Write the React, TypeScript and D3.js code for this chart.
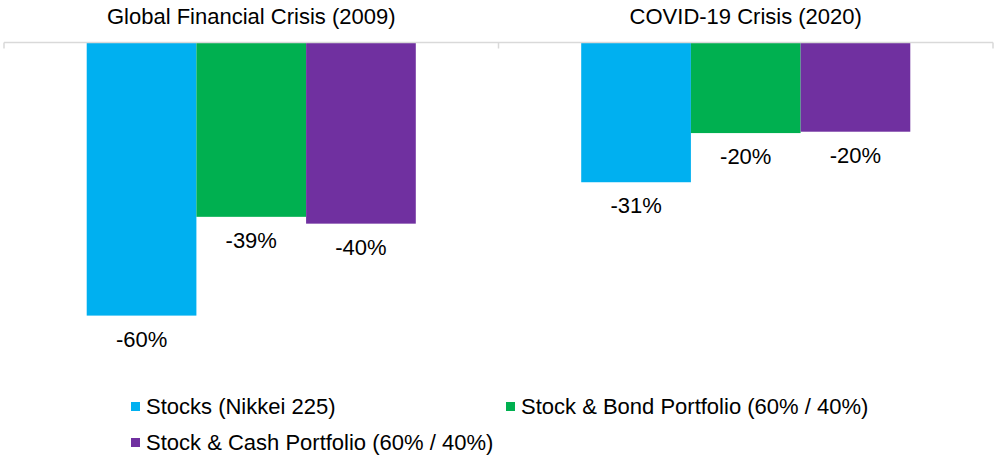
import React, {useEffect, useRef} from 'react';
import * as d3 from 'd3';

const groups = ['Global Financial Crisis (2009)', 'COVID-19 Crisis (2020)'];
const seriesNames = [
  'Stocks (Nikkei 225)',
  'Stock & Bond Portfolio (60% / 40%)',
  'Stock & Cash Portfolio (60% / 40%)',
];
const seriesColors = ['#00b0f0', '#00b050', '#7030a0'];
// drawdown in % per series, one value per group
const stocksValues = [-60, -30.7];
const bondValues = [-38.3, -19.9];
const cashValues = [-39.8, -19.6];
const stocksLabels = ['-60%', '-31%'];
const bondLabels = ['-39%', '-20%'];
const cashLabels = ['-40%', '-20%'];

const width = 1000;
const height = 460;
const font = '"Liberation Sans", Arial, sans-serif';

const App: React.FC = () => {
  const svgRef = useRef<SVGSVGElement | null>(null);

  useEffect(() => {
    if (!svgRef.current) return;
    const svg = d3.select(svgRef.current);
    svg.selectAll('*').remove();

    const values = [stocksValues, bondValues, cashValues];
    const labels = [stocksLabels, bondLabels, cashLabels];
    const rows = groups.flatMap((g, gi) =>
      seriesNames.map((s, si) => ({
        group: g,
        series: s,
        value: values[si][gi],
        label: labels[si][gi],
        color: seriesColors[si],
      }))
    );

    const x0 = d3.scaleBand().domain(groups).range([4, 993]);
    const x1 = d3
      .scaleBand()
      .domain(seriesNames)
      .range([0, x0.bandwidth()])
      .paddingInner(0)
      .paddingOuter(0.754);
    const y = d3.scaleLinear().domain([0, -60]).range([42.5, 315.6]);

    // bars
    svg
      .append('g')
      .selectAll('rect')
      .data(rows)
      .enter()
      .append('rect')
      .attr('x', (d) => x0(d.group)! + x1(d.series)!)
      .attr('y', y(0))
      .attr('width', x1.bandwidth())
      .attr('height', (d) => y(d.value) - y(0))
      .attr('fill', (d) => d.color);

    // category axis at zero line
    const axis = svg.append('g');
    axis
      .append('line')
      .attr('x1', x0.range()[0])
      .attr('x2', x0.range()[1])
      .attr('y1', y(0))
      .attr('y2', y(0))
      .attr('stroke', '#d9d9d9')
      .attr('stroke-width', 1.5);
    const tickXs = [...groups.map((g) => x0(g)!), x0.range()[1]];
    axis
      .selectAll('.tick')
      .data(tickXs)
      .enter()
      .append('line')
      .attr('x1', (d) => d)
      .attr('x2', (d) => d)
      .attr('y1', y(0))
      .attr('y2', y(0) + 6)
      .attr('stroke', '#d9d9d9')
      .attr('stroke-width', 1.5);

    // group titles
    svg
      .append('g')
      .selectAll('text')
      .data(groups)
      .enter()
      .append('text')
      .attr('x', (d) => x0(d)! + x0.bandwidth() / 2)
      .attr('y', 24)
      .attr('text-anchor', 'middle')
      .style('font-family', font)
      .style('font-size', '22px')
      .style('fill', '#000')
      .text((d) => d);

    // value labels
    svg
      .append('g')
      .selectAll('text')
      .data(rows)
      .enter()
      .append('text')
      .attr('x', (d) => x0(d.group)! + x1(d.series)! + x1.bandwidth() / 2)
      .attr('y', (d) => y(d.value) + 31)
      .attr('text-anchor', 'middle')
      .style('font-family', font)
      .style('font-size', '22px')
      .style('fill', '#000')
      .text((d) => d.label);

    // legend
    const legendPos = [
      {x: 131, y: 414},
      {x: 506, y: 414},
      {x: 131, y: 450},
    ];
    const legend = svg
      .append('g')
      .selectAll('g')
      .data(seriesNames)
      .enter()
      .append('g')
      .attr('transform', (_d, i) => `translate(${legendPos[i].x},${legendPos[i].y})`);
    legend
      .append('rect')
      .attr('x', 0)
      .attr('y', -12)
      .attr('width', 9)
      .attr('height', 9)
      .attr('fill', (_d, i) => seriesColors[i]);
    legend
      .append('text')
      .attr('x', 15)
      .attr('y', 0)
      .style('font-family', font)
      .style('font-size', '22px')
      .style('fill', '#000')
      .text((d) => d);
  }, []);

  return (
    <svg
      ref={svgRef}
      width={width}
      height={height}
      style={{position: 'absolute', left: 0, top: 0, background: '#fff'}}
    />
  );
};

export default App;
